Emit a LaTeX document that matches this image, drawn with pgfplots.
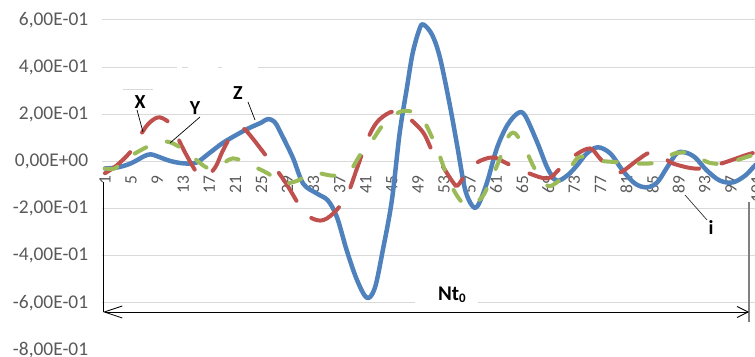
\documentclass[border=0pt]{standalone}
\usepackage{fontspec}
\setmainfont{Carlito}
\usepackage{pgfplots}
\pgfplotsset{compat=1.18}
\usetikzlibrary{arrows.meta}
\definecolor{zblue}{HTML}{4F81BD}
\definecolor{xred}{HTML}{C0504D}
\definecolor{ygreen}{HTML}{9BBB59}
\definecolor{tickgray}{HTML}{595959}
\definecolor{gridgray}{HTML}{D9D9D9}
\begin{document}
\begin{tikzpicture}
\path[use as bounding box] (0,0) rectangle (755bp,357bp);
\clip (0,0) rectangle (755bp,357bp);
\begin{axis}[
  at={(101.7bp,7bp)}, anchor=south west,
  scale only axis, width=658.5bp, height=330bp,
  xmin=0.5, xmax=101.5, ymin=-0.8, ymax=0.6,
  axis x line*=middle, axis y line*=left,
  axis line style={draw=none},
  major tick length=0pt,
  xtick={1,5,9,13,17,21,25,29,33,37,41,45,49,53,57,61,65,69,73,77,81,85,89,93,97,101},
  xticklabels={1,5,9,13,17,21,25,29,33,37,41,45,49,53,57,61,65,69,73,77,81,85,89,93,97,101},
  ytick={-0.6,-0.4,-0.2,0,0.2,0.4,0.6},
  yticklabels={-6{,}00E-01,-4{,}00E-01,-2{,}00E-01,0{,}00E+00,2{,}00E-01,4{,}00E-01,6{,}00E-01},
  extra y ticks={-0.8}, extra y tick labels={-8{,}00E-01},
  extra y tick style={grid=none},
  ymajorgrids, grid style={gridgray, line width=1bp},
  xticklabel style={rotate=90, anchor=east, text=tickgray, font=\fontsize{17.5}{17.5}\selectfont},
  xticklabel shift=11bp,
  yticklabel style={text=tickgray, font=\fontsize{19.5}{19.5}\selectfont},
  yticklabel shift=10bp,
]
% Z
\addplot[zblue, line width=4.5bp, smooth, tension=0.55, line cap=round, line join=round] coordinates {
(1,-0.03) (3,-0.025) (5,-0.008) (7,0.022) (8,0.03) (9,0.022) (11,0.002) (13,-0.008) (15,-0.005)
(17,0.035) (19,0.077) (21,0.11) (23,0.14) (25,0.165) (26,0.18) (27,0.168) (27.8,0.13) (29.8,0.017)
(31.4,-0.094) (33.5,-0.136) (35.2,-0.166) (36.6,-0.238) (38.1,-0.379) (39.7,-0.506) (41.2,-0.579)
(42.4,-0.536) (43.6,-0.379) (45.0,-0.166) (46.2,0.12) (47.3,0.31) (48.2,0.46) (49.3,0.566) (49.9,0.58)
(51.2,0.536) (52.4,0.438) (53.9,0.238) (55.1,0.055) (56.2,-0.115) (57.3,-0.187) (58.2,-0.187)
(59.6,-0.089) (61.1,0.055) (62.7,0.153) (64.3,0.204) (65.4,0.196) (67.3,0.081) (68.9,-0.03)
(70.3,-0.081) (71.9,-0.06) (73.4,-0.017) (74.9,0.034) (76.6,0.06) (78.5,0.034) (80.4,-0.038)
(82.3,-0.094) (84.1,-0.11) (85.7,-0.089) (87.2,-0.026) (88.7,0.034) (90.0,0.038) (91.5,0.017)
(93.3,-0.038) (95.3,-0.081) (97.3,-0.089) (99.2,-0.06) (100.7,-0.017) (101.5,0.0)
};
% X
\addplot[xred, line width=4bp, smooth, tension=0.55, line cap=round, dash pattern=on 33bp off 23bp] coordinates {
(1,-0.05) (2.8,-0.017) (5.1,0.047) (6.7,0.123) (7.9,0.166) (9.4,0.187) (11.3,0.153) (12.5,0.081)
(13.7,0.017) (15.1,-0.047) (16.4,-0.065) (17.9,-0.026) (19.1,0.047) (20.6,0.12) (21.8,0.14)
(22.9,0.123) (26.6,-0.009) (28.8,-0.094) (31.6,-0.217) (34.0,-0.251) (36.0,-0.221) (38.1,-0.145)
(39.7,-0.026) (41.2,0.089) (42.7,0.166) (44.7,0.208) (46.2,0.208) (47.5,0.187) (49.8,0.123)
(51.3,0.038) (52.7,-0.017) (54.4,-0.089) (55.1,-0.102) (56.5,-0.047) (58.1,-0.004) (60.5,0.017)
(62.7,-0.009) (65.7,-0.047) (68.9,-0.072) (70.8,-0.03) (73.1,0.026) (75.4,0.055) (76.9,0.013)
(78.5,-0.03) (80.0,-0.047) (82.6,0.004) (84.6,0.038) (86.6,0.026) (87.7,-0.004) (90.4,-0.026)
(92.3,-0.03) (94.3,-0.017) (96.1,-0.004) (99.2,0.026) (100.7,0.038) (101.5,0.045)
};
% Y
\addplot[ygreen, line width=4bp, smooth, tension=0.55, line cap=round, dash pattern=on 13bp off 22bp] coordinates {
(1,-0.03) (2.5,-0.03) (3.8,0.004) (5.6,0.034) (7.9,0.068) (9.4,0.085) (11.0,0.081) (12.5,0.06)
(14.0,0.034) (15.1,0.004) (16.6,-0.026) (17.9,-0.03) (19.4,-0.004) (20.6,0.013) (22.8,-0.004)
(24.5,-0.03) (26,-0.051) (27.5,-0.081) (28.6,-0.094) (30.6,-0.081) (32.9,-0.047) (34.7,-0.055)
(36.3,-0.06) (38.6,-0.038) (40.1,0.026) (42,0.089) (43.6,0.153) (45.8,0.204) (47.2,0.215)
(48.5,0.204) (50.1,0.162) (51.9,0.055) (52.7,-0.004) (53.6,-0.072) (54.7,-0.132) (55.8,-0.174)
(57.0,-0.187) (58.8,-0.153) (60.0,-0.089) (61.6,0.013) (62.7,0.098) (63.9,0.119) (65.7,0.038)
(66.9,-0.03) (68.8,-0.102) (70.3,-0.089) (71.9,-0.047) (73.4,0.013) (74.5,0.02) (76.5,0.004)
(80,-0.004) (83,-0.009) (85.7,-0.004) (88.4,0.034) (91,0.034) (93.5,-0.004) (96.1,-0.009)
(99.2,0.017) (100.7,0.03) (101.5,0.04)
};
\end{axis}
% white patches over gridlines
\fill[white] (177bp,287bp) rectangle (182bp,293bp);
\fill[white] (188bp,287bp) rectangle (218bp,293bp);
\fill[white] (222bp,287bp) rectangle (258bp,293bp);
\draw[gridgray, line width=1bp] (123bp,267bp) -- (153bp,267bp);
\fill[white] (415bp,50bp) rectangle (478bp,75bp);
% measurement lines
\draw[black, line width=0.8bp] (103bp,175bp) -- (103bp,45bp);
\draw[gray, line width=1.5bp] (749bp,155bp) -- (749bp,35bp);
\draw[black, line width=0.8bp, {Straight Barb[length=18bp,width=12bp]}-{Straight Barb[length=11bp,width=11bp]}] (103bp,45bp) -- (749bp,45bp);
% labels
\draw[black, line width=0.7bp] (137bp,247bp) -- (143bp,225bp);
\node[font=\bfseries\fontsize{20}{20}\selectfont] at (140bp,255bp) {X};
\draw[black, line width=0.7bp] (200bp,240bp) -- (170bp,214bp);
\node[font=\bfseries\fontsize{20}{20}\selectfont] at (195bp,249bp) {Y};
\draw[black, line width=0.7bp] (248bp,255bp) -- (255bp,237bp);
\node[font=\bfseries\fontsize{20}{20}\selectfont] at (238bp,264bp) {Z};
\draw[black!80, line width=0.7bp] (707bp,137bp) -- (685bp,162bp);
\node[font=\bfseries\fontsize{20}{20}\selectfont] at (711bp,129bp) {i};
\node[font=\bfseries\fontsize{21}{21}\selectfont] at (452bp,62bp) {Nt\raisebox{-2bp}{\fontsize{13}{13}\selectfont 0}};
\end{tikzpicture}
\end{document}
